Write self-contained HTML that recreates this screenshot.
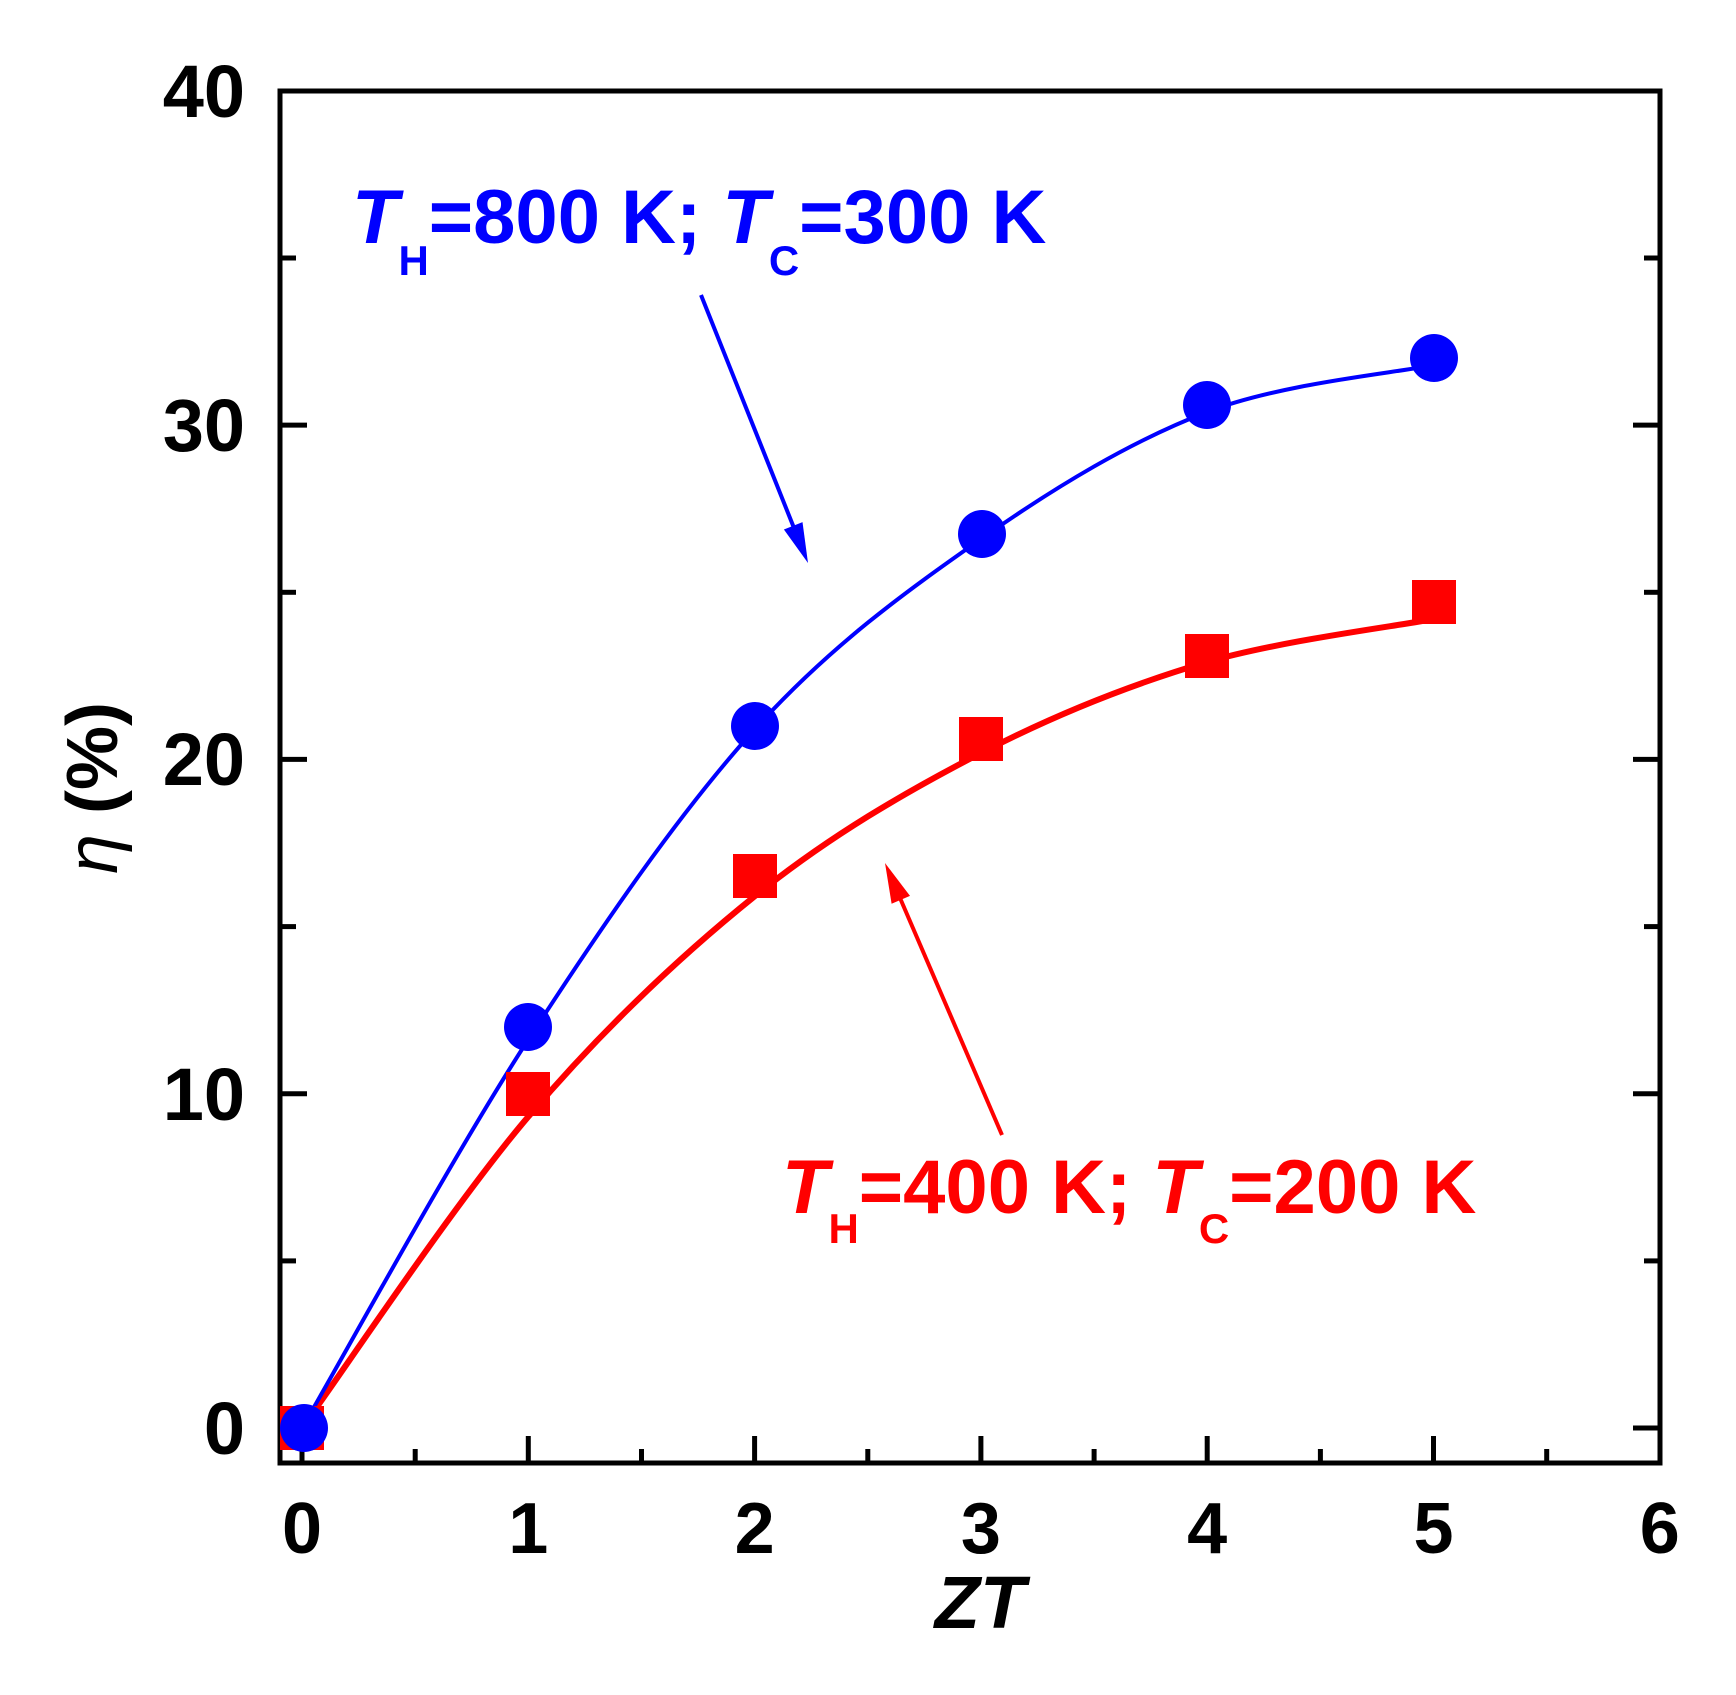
<!DOCTYPE html>
<html><head><meta charset="utf-8"><style>
html,body{margin:0;padding:0;background:#fff;}
svg{display:block;}
text{font-family:"Liberation Sans",Arial,sans-serif;font-weight:bold;}
</style></head><body>
<svg width="1736" height="1695" viewBox="0 0 1736 1695" xmlns="http://www.w3.org/2000/svg">
<rect width="1736" height="1695" fill="#fff"/>
<g stroke="#000" stroke-width="5">
<line x1="302" y1="1463" x2="302" y2="1436"/>
<line x1="528.3" y1="1463" x2="528.3" y2="1436"/>
<line x1="754.6" y1="1463" x2="754.6" y2="1436"/>
<line x1="980.9" y1="1463" x2="980.9" y2="1436"/>
<line x1="1207.2" y1="1463" x2="1207.2" y2="1436"/>
<line x1="1433.5" y1="1463" x2="1433.5" y2="1436"/>
<line x1="415.2" y1="1463" x2="415.2" y2="1449"/>
<line x1="641.5" y1="1463" x2="641.5" y2="1449"/>
<line x1="867.8" y1="1463" x2="867.8" y2="1449"/>
<line x1="1094.1" y1="1463" x2="1094.1" y2="1449"/>
<line x1="1320.4" y1="1463" x2="1320.4" y2="1449"/>
<line x1="1546.7" y1="1463" x2="1546.7" y2="1449"/>
<line x1="280" y1="1428" x2="307" y2="1428"/><line x1="1660" y1="1428" x2="1633" y2="1428"/>
<line x1="280" y1="1093.7" x2="307" y2="1093.7"/><line x1="1660" y1="1093.7" x2="1633" y2="1093.7"/>
<line x1="280" y1="759.4" x2="307" y2="759.4"/><line x1="1660" y1="759.4" x2="1633" y2="759.4"/>
<line x1="280" y1="425.1" x2="307" y2="425.1"/><line x1="1660" y1="425.1" x2="1633" y2="425.1"/>
<line x1="280" y1="1260.9" x2="296" y2="1260.9"/><line x1="1660" y1="1260.9" x2="1644" y2="1260.9"/>
<line x1="280" y1="926.6" x2="296" y2="926.6"/><line x1="1660" y1="926.6" x2="1644" y2="926.6"/>
<line x1="280" y1="592.3" x2="296" y2="592.3"/><line x1="1660" y1="592.3" x2="1644" y2="592.3"/>
<line x1="280" y1="258" x2="296" y2="258"/><line x1="1660" y1="258" x2="1644" y2="258"/>
</g>
<rect x="280" y="91" width="1380" height="1372" fill="none" stroke="#000" stroke-width="5"/>
<g font-size="74" fill="#000" text-anchor="end">
<text x="245" y="1454">0</text>
<text x="245" y="1120">10</text>
<text x="245" y="785">20</text>
<text x="245" y="451">30</text>
<text x="245" y="117">40</text>
</g>
<g font-size="72" fill="#000" text-anchor="middle">
<text x="302" y="1553">0</text>
<text x="528.3" y="1553">1</text>
<text x="754.6" y="1553">2</text>
<text x="980.9" y="1553">3</text>
<text x="1207.2" y="1553">4</text>
<text x="1433.5" y="1553">5</text>
<text x="1659.8" y="1553">6</text>
</g>
<text x="980" y="1628" font-size="74" font-style="italic" text-anchor="middle">ZT</text>
<text transform="translate(117,788) rotate(-90)" font-size="72" text-anchor="middle"><tspan font-style="italic" font-weight="normal">η</tspan> (%)</text>
<path d="M302,1428 C340,1376 452.5,1205.7 528,1117 C603.5,1028.3 679.5,956.7 755,896 C830.5,835.3 905.7,792 981,753 C1056.3,714 1131.5,684.3 1207,662 C1282.5,640.3 1396,626.2 1434,619" fill="none" stroke="#ff0000" stroke-width="6"/>
<path d="M302,1428 C340,1363 452.5,1156.5 528,1040 C603.5,923.5 679.5,812.5 755,729 C830.5,645.5 905.7,591.8 981,539 C1056.3,486.2 1131.5,441 1207,412 C1282.5,383 1396,373 1434,365" fill="none" stroke="#0000ff" stroke-width="4"/>
<g fill="#ff0000">
<rect x="280" y="1406" width="44" height="44"/>
<rect x="506" y="1072" width="44" height="44"/>
<rect x="733" y="854" width="44" height="44"/>
<rect x="959" y="717" width="44" height="44"/>
<rect x="1185" y="634" width="44" height="44"/>
<rect x="1412" y="580" width="44" height="44"/>
</g>
<g fill="#0000ff">
<circle cx="304" cy="1428" r="24"/>
<circle cx="528" cy="1027" r="24"/>
<circle cx="755" cy="726" r="24"/>
<circle cx="982" cy="534" r="24"/>
<circle cx="1207" cy="405" r="24"/>
<circle cx="1434" cy="358" r="24"/>
</g>
<line x1="701" y1="295" x2="796" y2="533" stroke="#0000ff" stroke-width="4"/>
<polygon points="808,563 783.9,529.5 802.5,522.1" fill="#0000ff"/>
<line x1="1002" y1="1135" x2="897" y2="891" stroke="#ff0000" stroke-width="4"/>
<polygon points="885,863 910,895.9 891.6,903.7" fill="#ff0000"/>
<text x="352" y="243" font-size="76" fill="#0000ff"><tspan font-style="italic">T</tspan><tspan font-size="42" dy="32">H</tspan><tspan dy="-32">=800 K;  </tspan><tspan font-style="italic">T</tspan><tspan font-size="42" dy="32">C</tspan><tspan dy="-32">=300 K</tspan></text>
<text x="782" y="1213" font-size="76" fill="#ff0000"><tspan font-style="italic">T</tspan><tspan font-size="42" dy="30">H</tspan><tspan dy="-30">=400 K;  </tspan><tspan font-style="italic">T</tspan><tspan font-size="42" dy="30">C</tspan><tspan dy="-30">=200 K</tspan></text>
</svg>
</body></html>
